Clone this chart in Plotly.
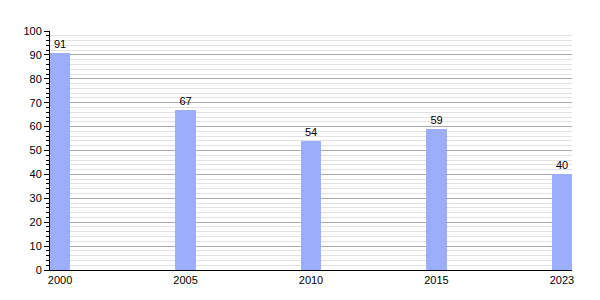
import plotly.graph_objects as go

years = ["2000", "2005", "2010", "2015", "2023"]
values = [91, 67, 54, 59, 40]

xs = list(range(len(years)))

fig = go.Figure()
fig.add_trace(go.Bar(
    x=xs, y=values, width=0.16,
    marker=dict(color="#9cadfc", line=dict(width=0)),
    text=[str(v) for v in values], textposition="outside",
    textfont=dict(family="Liberation Sans, Arial", size=11, color="#000"),
    cliponaxis=False,
))

fig.update_layout(
    width=600, height=300,
    margin=dict(l=50, r=28, t=31, b=30),
    paper_bgcolor="white", plot_bgcolor="white",
    showlegend=False,
    font=dict(family="Liberation Sans, Arial", size=11, color="#000"),
    bargap=0,
)
fig.update_xaxes(
    range=[-0.08, 4.08], tickvals=xs, ticktext=years,
    showgrid=False, showline=True, linecolor="#000", linewidth=1,
    ticks="", zeroline=False,
)
fig.update_yaxes(
    range=[0, 100], dtick=10, tick0=0,
    showgrid=True, gridcolor="#aaaaaa", gridwidth=1,
    showline=True, linecolor="#000", linewidth=1,
    ticks="outside", ticklen=5, tickcolor="#000",
    zeroline=False,
    minor=dict(dtick=2, showgrid=True, gridcolor="#e2e2e2", gridwidth=1,
               ticks="outside", ticklen=3, tickcolor="#000"),
)

fig.write_html("out.html")
